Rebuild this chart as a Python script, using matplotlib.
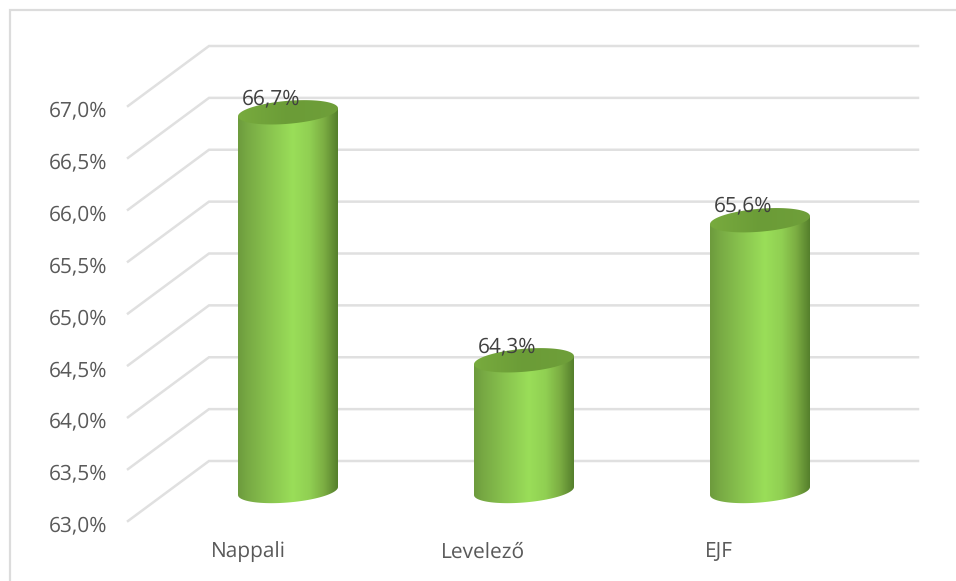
import numpy as np
import matplotlib
matplotlib.use('Agg')
import matplotlib.pyplot as plt
from matplotlib.colors import LinearSegmentedColormap
from matplotlib.patches import Polygon

categories = ['Nappali', 'Levelező', 'EJF']
values = [66.65, 64.26, 65.61]
value_labels = ['66,7%', '64,3%', '65,6%']
ticks = [63.0, 63.5, 64.0, 64.5, 65.0, 65.5, 66.0, 66.5, 67.0]
tick_labels = ['63,0%', '63,5%', '64,0%', '64,5%', '65,0%', '65,5%', '66,0%', '66,5%', '67,0%']
category_label_px = [248, 483, 719]

W, H = 956, 581
PX_X = 236.0     # pixels per category
PX_Y = 103.75    # pixels per percentage point
X0 = 288.0       # pixel of first category
Y0 = 491.0       # pixel of 63% in the plane of the bars

plt.rcParams['font.family'] = 'Open Sans'
plt.rcParams['text.hinting'] = 'no_hinting'

fig = plt.figure(figsize=(W / 100, H / 100), dpi=100)
ax = fig.add_axes([0, 0, 1, 1])
xlim = (-X0 / PX_X, (W - X0) / PX_X)
ylim = (63 - (H - Y0) / PX_Y, 63 + Y0 / PX_Y)
ax.axis('off')

dx = 1 / PX_X
dy = 1 / PX_Y

# outer frame, only top and left are inside the crop
frame_x = xlim[0] + 9.5 * dx
frame_y = ylim[1] - 10 * dy
ax.plot([frame_x, frame_x, xlim[1]], [ylim[0], frame_y, frame_y], color='#dcdcdc', lw=1.6,
        zorder=1, solid_joinstyle='miter')

# gridlines: floor edge then back wall
x_front = (128 - X0) * dx
x_back = (209 - X0) * dx
x_right = (918 - X0) * dx
for t, lab in zip(ticks, tick_labels):
    ax.plot([x_front, x_back, x_right], [t - 30 * dy, t + 30 * dy, t + 30 * dy],
            color='#e0e0e0', lw=1.8, zorder=2, solid_joinstyle='miter')
    ax.text((107 - X0) * dx, t - 35 * dy, lab, ha='right', va='center',
            fontsize=15, color='#595959')

side_cmap = LinearSegmentedColormap.from_list('side', [
    (0.0, '#6d9b3d'), (0.1, '#78aa44'), (0.3, '#88c24e'), (0.55, '#9ade59'),
    (0.72, '#90cf52'), (0.86, '#7cae43'), (1.0, '#557f2c')])
top_cmap = LinearSegmentedColormap.from_list('top', ['#78ab3e', '#6b9c37', '#6f9f3a'])
grad = np.linspace(0, 1, 256).reshape(1, -1)

half_w = 50 * dx
el_h = 11.5 * dy
tilt = 4 * dy    # the ellipses lean up towards the right
t_arc = np.linspace(0, np.pi, 60)
t_full = np.linspace(0, 2 * np.pi, 120)

for i, (cat, v, vl) in enumerate(zip(categories, values, value_labels)):
    # lower half of the ellipse, left end to right end
    arc_x = i - half_w * np.cos(t_arc)
    arc_off = -el_h * np.sin(t_arc) - tilt * np.cos(t_arc)

    # side of the cylinder filled by a gradient
    side_xy = np.column_stack([np.r_[arc_x, i + half_w, i - half_w],
                               np.r_[63 + arc_off, v + tilt, v - tilt]])
    side = Polygon(side_xy, closed=True, fc='none', ec='none')
    ax.add_patch(side)
    im = ax.imshow(grad, cmap=side_cmap, aspect='auto', zorder=3, interpolation='bilinear',
                   extent=(i - half_w, i + half_w, 63 - 2 * el_h, v + 2 * el_h))
    im.set_clip_path(side)

    # top of the cylinder
    top_xy = np.column_stack([i - half_w * np.cos(t_full),
                              v - el_h * np.sin(t_full) - tilt * np.cos(t_full)])
    top = Polygon(top_xy, closed=True, fc='none', ec='none')
    ax.add_patch(top)
    im2 = ax.imshow(grad, cmap=top_cmap, aspect='auto', zorder=4, interpolation='bilinear',
                    extent=(i - half_w, i + half_w, v - 2 * el_h, v + 2 * el_h))
    im2.set_clip_path(top)

    ax.annotate(vl, (i, v), xytext=(-12, 10), textcoords='offset points',
                ha='center', va='center', fontsize=15, color='#404040', zorder=5)
    ax.text((category_label_px[i] - X0) * dx, 63 - 61 * dy, cat,
            ha='center', va='center', fontsize=15, color='#595959')

ax.set_xlim(*xlim)
ax.set_ylim(*ylim)

fig.savefig('out.png', dpi=100)
